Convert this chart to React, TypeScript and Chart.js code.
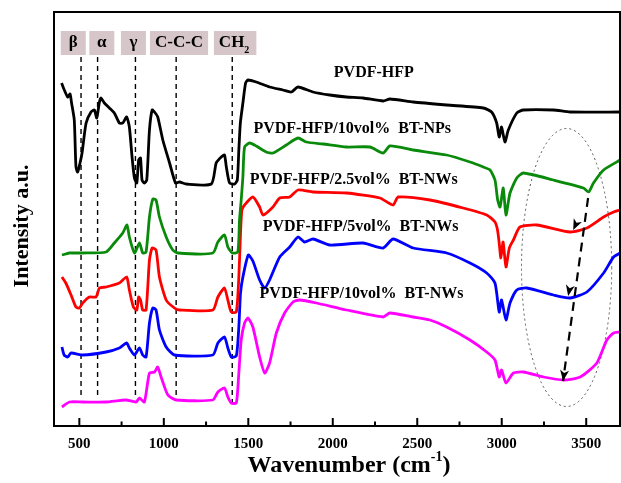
import React, { useEffect, useRef } from "react";
import { Chart, registerables } from "chart.js";

Chart.register(...registerables);

// ---- Data (wavenumber in cm^-1, intensity in arbitrary units with vertical offsets) ----
const blackX = [395, 411, 431, 445, 454, 470, 480, 490, 504, 516, 540, 569, 589, 603, 619, 629, 648, 678, 707, 737, 757, 780, 796, 812, 826, 840, 851, 862, 871, 885, 899, 915, 931, 945, 964, 994, 1034, 1069, 1093, 1132, 1281, 1310, 1340, 1359, 1370, 1389, 1419, 1435, 1444, 1453, 1468, 1484, 1498, 1547, 1626, 1705, 1755, 1794, 1883, 1982, 2081, 2179, 2298, 2338, 2476, 2674, 2891, 2940, 2970, 2985, 2999, 3019, 3039, 3089, 3128, 3306, 3405, 3701];
const blackY = [343, 336, 329, 332, 323, 306, 259, 254, 263, 273, 303, 314, 316, 308, 324, 328, 323, 318, 313, 303, 303, 309, 299, 269, 248, 243, 266, 268, 246, 243, 246, 296, 316, 314, 309, 286, 263, 243, 244, 242, 242, 263, 269, 271, 259, 243, 242, 246, 276, 303, 323, 343, 346, 344, 339, 336, 334, 339, 334, 331, 329, 328, 325, 327, 324, 321, 318, 314, 303, 289, 299, 284, 296, 313, 316, 316, 314, 314];

const greenX = [397, 420, 441, 460, 520, 658, 707, 757, 782, 796, 826, 856, 875, 895, 915, 935, 954, 974, 1014, 1053, 1083, 1290, 1320, 1359, 1379, 1405, 1438, 1448, 1458, 1468, 1478, 1508, 1547, 1606, 1646, 1725, 1794, 1843, 1943, 2081, 2220, 2298, 2338, 2476, 2674, 2812, 2891, 2931, 2960, 2976, 2990, 3009, 3025, 3049, 3089, 3128, 3306, 3484, 3514, 3543, 3603, 3701];
const greenY = [171, 172, 173, 173, 173, 174, 183, 193, 201, 189, 173, 183, 173, 174, 209, 227, 226, 209, 189, 176, 173, 173, 184, 191, 179, 173, 174, 206, 226, 249, 279, 283, 280, 274, 273, 281, 288, 284, 282, 279, 279, 273, 280, 276, 271, 264, 259, 256, 246, 226, 219, 238, 211, 233, 248, 253, 246, 238, 234, 243, 256, 266];

const redX = [397, 420, 451, 480, 500, 520, 559, 599, 619, 658, 737, 780, 796, 820, 840, 851, 862, 875, 895, 915, 931, 954, 974, 1014, 1063, 1093, 1290, 1320, 1359, 1379, 1399, 1429, 1444, 1454, 1462, 1478, 1527, 1567, 1587, 1646, 1686, 1745, 1794, 1883, 2081, 2279, 2357, 2387, 2575, 2772, 2911, 2960, 2975, 2985, 2995, 3008, 3025, 3045, 3069, 3108, 3207, 3405, 3504, 3603, 3662, 3701];
const redY = [149, 143, 131, 119, 118, 123, 129, 129, 138, 139, 143, 149, 136, 119, 116, 129, 126, 116, 116, 166, 178, 176, 149, 126, 118, 116, 116, 129, 138, 126, 114, 114, 149, 193, 216, 221, 229, 219, 211, 219, 228, 229, 236, 234, 233, 228, 221, 229, 226, 218, 211, 204, 196, 183, 168, 184, 159, 178, 186, 199, 201, 194, 198, 209, 214, 216];

const blueX = [397, 410, 431, 451, 520, 658, 737, 780, 796, 826, 856, 875, 895, 915, 935, 954, 974, 1014, 1063, 1290, 1320, 1359, 1379, 1399, 1429, 1444, 1454, 1468, 1500, 1527, 1567, 1597, 1626, 1686, 1745, 1794, 1833, 1883, 1982, 2179, 2298, 2357, 2476, 2674, 2812, 2911, 2960, 2985, 2999, 3025, 3049, 3089, 3148, 3306, 3405, 3504, 3603, 3662, 3701];
const blueY = [79, 71, 69, 73, 71, 74, 78, 83, 78, 71, 78, 71, 69, 103, 118, 116, 96, 79, 71, 71, 83, 89, 78, 69, 70, 99, 133, 149, 171, 165, 146, 138, 146, 169, 179, 189, 184, 187, 181, 183, 178, 187, 178, 173, 163, 153, 143, 114, 126, 106, 123, 136, 138, 131, 128, 134, 153, 169, 173];

const magentaX = [397, 441, 520, 658, 776, 836, 856, 885, 915, 945, 964, 984, 1024, 1073, 1290, 1320, 1359, 1379, 1399, 1429, 1444, 1458, 1478, 1498, 1527, 1567, 1597, 1626, 1666, 1715, 1765, 1804, 1903, 2081, 2298, 2338, 2476, 2575, 2674, 2812, 2911, 2960, 2985, 2999, 3025, 3069, 3128, 3247, 3366, 3464, 3563, 3622, 3662, 3701];
const magentaY = [19, 24, 24, 24, 26, 24, 28, 24, 53, 54, 59, 49, 31, 26, 26, 34, 38, 29, 23, 23, 53, 86, 103, 108, 99, 69, 53, 63, 93, 113, 124, 126, 123, 116, 109, 113, 109, 106, 99, 86, 74, 66, 49, 56, 43, 53, 54, 49, 46, 49, 63, 86, 93, 94];

const seriesNames = ["PVDF-HFP", "PVDF-HFP/10vol%  BT-NPs", "PVDF-HFP/2.5vol%  BT-NWs", "PVDF-HFP/5vol%  BT-NWs", "PVDF-HFP/10vol%  BT-NWs"];
const seriesColors = ["#000000", "#0a8a0a", "#ff0000", "#0000ff", "#ff00ff"];
const seriesLabelX = [2243, 2115, 2124, 2165, 2170];
const seriesLabelY = [353, 297, 246, 199, 132];

const xTickValues = [500, 1000, 1500, 2000, 2500, 3000, 3500];
const xMinorTicks = [750, 1250, 1750, 2250, 2750, 3250];

const bandNames = ["β", "α", "γ", "C-C-C", "CH"];
const bandLines = [510, 608, 832, 1073, 1405];
const bandBoxCenters = [464, 633, 820, 1090, 1422];

// ellipse (center wavenumber, center intensity, half-width in cm^-1, half-height)
const ellipseSpec = [3384, 158.5, 267, 139];
// dashed arrow path: start, then arrowheads
const arrowX = [3511, 3423, 3393, 3363];
const arrowY = [228, 196, 130, 45];

const FONT = "'Liberation Serif', 'Times New Roman', serif";

const allSeries = [
  [blackX, blackY],
  [greenX, greenY],
  [redX, redY],
  [blueX, blueY],
  [magentaX, magentaY],
];

function arrowHead(ctx: CanvasRenderingContext2D, x0: number, y0: number, x1: number, y1: number) {
  const ang = Math.atan2(y1 - y0, x1 - x0);
  const len = 11, w = 4.5;
  ctx.save();
  ctx.translate(x1, y1);
  ctx.rotate(ang);
  ctx.beginPath();
  ctx.moveTo(0, 0);
  ctx.lineTo(-len, -w);
  ctx.lineTo(-len + 3, 0);
  ctx.lineTo(-len, w);
  ctx.closePath();
  ctx.fill();
  ctx.restore();
}

const decorPlugin = {
  id: "decor",
  beforeDatasetsDraw(chart: any) {
    const { ctx, chartArea, scales } = chart;
    const xs = scales.x, ys = scales.y;
    ctx.save();
    ctx.strokeStyle = "#000";
    ctx.lineWidth = 1.4;
    ctx.setLineDash([5, 4]);
    bandLines.forEach((v, i) => {
      const px = xs.getPixelForValue(v);
      ctx.beginPath();
      ctx.moveTo(px, chartArea.top + 45);
      ctx.lineTo(px, chartArea.bottom - (i === 4 ? 23 : 31));
      ctx.stroke();
    });
    const [ecx, ecy, erx, ery] = ellipseSpec;
    const cx = xs.getPixelForValue(ecx), cy = ys.getPixelForValue(ecy);
    const rx = Math.abs(xs.getPixelForValue(ecx + erx) - cx);
    const ry = Math.abs(ys.getPixelForValue(ecy + ery) - cy);
    ctx.strokeStyle = "#555";
    ctx.lineWidth = 1;
    ctx.setLineDash([2, 3]);
    ctx.beginPath();
    ctx.ellipse(cx, cy, rx, ry, 0, 0, Math.PI * 2);
    ctx.stroke();
    ctx.restore();
  },
  afterDatasetsDraw(chart: any) {
    const { ctx, chartArea, scales } = chart;
    const xs = scales.x, ys = scales.y;
    ctx.save();
    ctx.font = `bold 17px ${FONT}`;
    ctx.textBaseline = "middle";
    ctx.textAlign = "center";
    bandNames.forEach((name, i) => {
      const cxp = xs.getPixelForValue(bandBoxCenters[i]);
      let tw = ctx.measureText(name).width;
      if (i === 4) tw += 7;
      const bw = Math.max(25, tw + 10);
      const top = chartArea.top + 19, h = 24;
      ctx.fillStyle = "#d6c6ca";
      ctx.fillRect(cxp - bw / 2, top, bw, h);
      ctx.fillStyle = "#000";
      if (i === 4) {
        ctx.textAlign = "left";
        const tx = cxp - tw / 2;
        ctx.fillText(name, tx, top + h / 2);
        const w2 = ctx.measureText(name).width;
        ctx.font = `bold 10px ${FONT}`;
        ctx.fillText("2", tx + w2, top + h / 2 + 7);
        ctx.font = `bold 17px ${FONT}`;
        ctx.textAlign = "center";
      } else {
        ctx.fillText(name, cxp, top + h / 2);
      }
    });
    ctx.font = `bold 16px ${FONT}`;
    ctx.fillStyle = "#000";
    seriesNames.forEach((n, i) => {
      ctx.fillText(n, xs.getPixelForValue(seriesLabelX[i]), ys.getPixelForValue(seriesLabelY[i]));
    });
    const pts = arrowX.map((v, i) => [xs.getPixelForValue(v), ys.getPixelForValue(arrowY[i])]);
    ctx.strokeStyle = "#000";
    ctx.fillStyle = "#000";
    ctx.lineWidth = 2.2;
    ctx.setLineDash([9, 6]);
    ctx.beginPath();
    ctx.moveTo(pts[0][0], pts[0][1]);
    ctx.lineTo(pts[3][0], pts[3][1]);
    ctx.stroke();
    ctx.setLineDash([]);
    for (let k = 1; k < pts.length; k++) arrowHead(ctx, pts[0][0], pts[0][1], pts[k][0], pts[k][1]);
    ctx.lineWidth = 2;
    ctx.strokeStyle = "#000";
    ctx.strokeRect(chartArea.left, chartArea.top, chartArea.right - chartArea.left, chartArea.bottom - chartArea.top);
    ctx.lineWidth = 2;
    xTickValues.forEach((v) => {
      const px = xs.getPixelForValue(v);
      ctx.beginPath();
      ctx.moveTo(px, chartArea.bottom);
      ctx.lineTo(px, chartArea.bottom - 8);
      ctx.stroke();
    });
    xMinorTicks.forEach((v) => {
      const px = xs.getPixelForValue(v);
      ctx.beginPath();
      ctx.moveTo(px, chartArea.bottom);
      ctx.lineTo(px, chartArea.bottom - 4.5);
      ctx.stroke();
    });
    ctx.fillStyle = "#000";
    ctx.textBaseline = "alphabetic";
    ctx.textAlign = "left";
    ctx.font = `bold 24px ${FONT}`;
    const main = "Wavenumber (cm";
    const wMain = ctx.measureText(main).width;
    ctx.font = `bold 14px ${FONT}`;
    const wSup = ctx.measureText("-1").width;
    ctx.font = `bold 24px ${FONT}`;
    const wEnd = ctx.measureText(")").width;
    const total = wMain + wSup + wEnd;
    const startX = 349 - total / 2;
    const baseY = 472;
    ctx.fillText(main, startX, baseY);
    ctx.font = `bold 14px ${FONT}`;
    ctx.fillText("-1", startX + wMain, baseY - 11);
    ctx.font = `bold 24px ${FONT}`;
    ctx.fillText(")", startX + wMain + wSup, baseY);
    ctx.save();
    ctx.translate(22, 226);
    ctx.rotate(-Math.PI / 2);
    ctx.textAlign = "center";
    ctx.textBaseline = "middle";
    ctx.font = `bold 22px ${FONT}`;
    ctx.fillText("Intensity a.u.", 0, 0);
    ctx.restore();
    ctx.restore();
  },
};

export default function App() {
  const ref = useRef<HTMLCanvasElement | null>(null);
  useEffect(() => {
    if (!ref.current) return;
    const chart = new Chart(ref.current, {
      type: "line",
      data: {
        datasets: allSeries.map(([xv, yv], i) => ({
          label: seriesNames[i],
          data: xv.map((x, j) => ({ x, y: yv[j] })),
          borderColor: seriesColors[i],
          backgroundColor: seriesColors[i],
          borderWidth: 2.8,
          pointRadius: 0,
          tension: 0.2,
          fill: false,
        })),
      },
      options: {
        animation: false,
        responsive: false,
        maintainAspectRatio: false,
        layout: { padding: { top: 12, right: 1, left: 0, bottom: 0 } },
        plugins: { legend: { display: false }, tooltip: { enabled: false } },
        scales: {
          x: {
            type: "linear",
            min: 350,
            max: 3700,
            grid: { display: false, drawTicks: false },
            border: { display: false },
            ticks: {
              color: "#000",
              font: { family: FONT, size: 15, weight: "bold" },
              padding: 9,
              maxRotation: 0,
              autoSkip: false,
              callback: (v: any) => String(v),
            },
            afterBuildTicks: (s: any) => {
              s.ticks = xTickValues.map((v) => ({ value: v }));
            },
            afterFit: (s: any) => {
              s.height = 57;
            },
          },
          y: {
            type: "linear",
            min: 0,
            max: 414,
            grid: { display: false, drawTicks: false },
            border: { display: false },
            ticks: { display: false },
            afterFit: (s: any) => {
              s.width = 54;
            },
          },
        },
      },
      plugins: [decorPlugin],
    });
    return () => chart.destroy();
  }, []);
  return (
    <div style={{ position: "absolute", left: 0, top: 0, width: 621, height: 483, background: "#fff" }}>
      <canvas ref={ref} width={621} height={483} style={{ width: 621, height: 483, display: "block" }} />
    </div>
  );
}
